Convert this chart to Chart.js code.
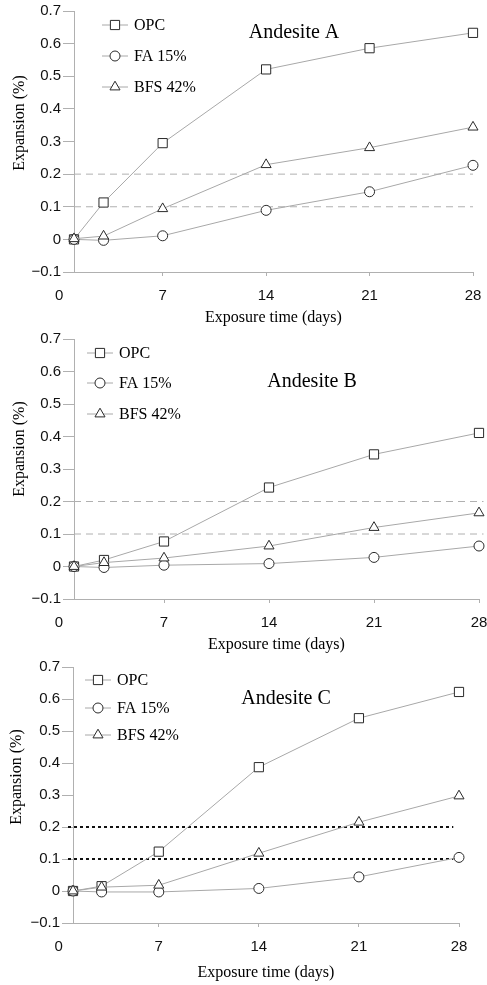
<!DOCTYPE html>
<html lang="en">
<head>
    <meta charset="UTF-8">
    <title>Expansion vs exposure time - Andesite A, B, C</title>
    <script src="https://cdn.jsdelivr.net/npm/chart.js"></script>
    <style>
        body { margin: 0; background: #fff; }
        .panel { position: absolute; left: 0; width: 487px; }
    </style>
</head>
<body>
    <div class="panel" style="top:0;height:328px"><canvas id="chartA"></canvas></div>
    <div class="panel" style="top:328px;height:328px"><canvas id="chartB"></canvas></div>
    <div class="panel" style="top:656px;height:329px"><canvas id="chartC"></canvas></div>

    <script>
        // exposure days and tick labels
        const days = [1, 3, 7, 14, 21, 28];
        const xTicks = [0, 7, 14, 21, 28];
        const limits = [0.1, 0.2];
        const seriesNames = ['OPC', 'FA 15%', 'BFS 42%'];

        // expansion (%)
        const opcA = [0, 0.113, 0.295, 0.521, 0.586, 0.633];
        const faA  = [0, -0.003, 0.011, 0.089, 0.146, 0.227];
        const bfsA = [0.002, 0.010, 0.094, 0.229, 0.281, 0.344];

        const opcB = [0, 0.020, 0.077, 0.243, 0.345, 0.411];
        const faB  = [0, -0.003, 0.004, 0.009, 0.028, 0.063];
        const bfsB = [0, 0.012, 0.026, 0.063, 0.120, 0.165];

        const opcC = [0, 0.015, 0.123, 0.387, 0.540, 0.622];
        const faC  = [0, -0.003, -0.003, 0.008, 0.044, 0.105];
        const bfsC = [0, 0.012, 0.018, 0.118, 0.215, 0.297];

        const serif = '"Liberation Serif", "Times New Roman", serif';
        const sans = '"Liberation Sans", Arial, sans-serif';
        const lineColor = '#a8a8a8';
        const markColor = '#2a2a2a';
        const styles = [
            { pointStyle: 'rect', radius: 6.5 },
            { pointStyle: 'circle', radius: 5 },
            { pointStyle: 'triangle', radius: 5.8 }
        ];

        const panels = [
            { canvas: 'chartA', title: 'Andesite A', series: [opcA, faA, bfsA],
              height: 328, top: 11, bottom: 272, right: 14, axisX: 74,
              titleX: 294, titleY: 33, legX: 115, legY: [25, 56, 87], yTitleX: 20, yTitleY: 123,
              xTitlePad: 1, ref: { color: '#b0b0b0', width: 1, dash: [7, 5], from: 1, to: 28 } },
            { canvas: 'chartB', title: 'Andesite B', series: [opcB, faB, bfsB],
              height: 328, top: 11, bottom: 271, right: 8, axisX: 74,
              titleX: 312, titleY: 54, legX: 100, legY: [25, 55, 86], yTitleX: 20, yTitleY: 121,
              xTitlePad: 2, ref: { color: '#b0b0b0', width: 1, dash: [7, 5], from: 1, to: 28.3 } },
            { canvas: 'chartC', title: 'Andesite C', series: [opcC, faC, bfsC],
              height: 329, top: 10, bottom: 267, right: 28, axisX: 73,
              titleX: 286, titleY: 43, legX: 98, legY: [24, 52, 79], yTitleX: 17, yTitleY: 121,
              xTitlePad: 3, ref: { color: '#111', width: 2, dash: [3, 3], from: 0.65, to: 27.6 } }
        ];

        const drawMarker = (ctx, style, r, x, y) => {
            ctx.beginPath();
            if (style === 'rect') {
                const s = r * Math.SQRT1_2;
                ctx.rect(x - s, y - s, 2 * s, 2 * s);
            } else if (style === 'circle') {
                ctx.arc(x, y, r, 0, Math.PI * 2);
            } else {
                const h = r * 1.5, w = r * Math.sqrt(3) / 2;
                ctx.moveTo(x, y - r);
                ctx.lineTo(x + w, y + h - r);
                ctx.lineTo(x - w, y + h - r);
                ctx.closePath();
            }
            ctx.fillStyle = '#fff';
            ctx.fill();
            ctx.stroke();
        };

        const decorations = {
            id: 'decorations',
            afterDraw(chart, args, p) {
                const ctx = chart.ctx;
                ctx.save();
                // panel label
                ctx.fillStyle = '#000';
                ctx.font = '20px ' + serif;
                ctx.textAlign = 'center';
                ctx.textBaseline = 'middle';
                ctx.fillText(p.title, p.titleX, p.titleY);
                // y title
                ctx.save();
                ctx.font = '16px ' + serif;
                ctx.translate(p.yTitleX, p.yTitleY);
                ctx.rotate(-Math.PI / 2);
                ctx.fillText('Expansion (%)', 0, 0);
                ctx.restore();
                // legend
                ctx.textAlign = 'left';
                ctx.font = '16px ' + serif;
                seriesNames.forEach((name, i) => {
                    const y = p.legY[i];
                    ctx.strokeStyle = lineColor;
                    ctx.lineWidth = 1;
                    ctx.beginPath();
                    ctx.moveTo(p.legX - 13, y);
                    ctx.lineTo(p.legX + 13, y);
                    ctx.stroke();
                    ctx.strokeStyle = markColor;
                    drawMarker(ctx, styles[i].pointStyle, styles[i].radius, p.legX, y);
                    ctx.fillStyle = '#000';
                    ctx.fillText(name, p.legX + 19, y + 1);
                });
                ctx.restore();
            }
        };

        const buildChart = (p) => {
            const datasets = limits.map(v => ({
                data: [{ x: p.ref.from, y: v }, { x: p.ref.to, y: v }],
                borderColor: p.ref.color,
                borderWidth: p.ref.width,
                borderDash: p.ref.dash,
                pointRadius: 0,
                clip: false,
                order: 5
            }));
            p.series.forEach((vals, i) => {
                datasets.push({
                    label: seriesNames[i],
                    data: days.map((d, k) => ({ x: d, y: vals[k] })),
                    borderColor: lineColor,
                    borderWidth: 1,
                    pointStyle: styles[i].pointStyle,
                    pointRadius: styles[i].radius,
                    pointBorderColor: markColor,
                    pointBackgroundColor: '#fff',
                    pointBorderWidth: 1,
                    clip: false,
                    order: 3 - i
                });
            });

            return new Chart(document.getElementById(p.canvas), {
                type: 'line',
                data: { datasets },
                plugins: [decorations],
                options: {
                    responsive: true,
                    maintainAspectRatio: false,
                    animation: false,
                    layout: { padding: { top: p.top, right: p.right, left: 0, bottom: 0 } },
                    plugins: {
                        legend: { display: false },
                        tooltip: { enabled: false },
                        decorations: p
                    },
                    scales: {
                        x: {
                            type: 'linear',
                            min: 1, max: 28,
                            afterBuildTicks: (axis) => { axis.ticks = xTicks.map(v => ({ value: v })); },
                            afterFit: (axis) => {
                                axis.height = p.height - p.bottom;
                                axis.paddingLeft = 0;
                                axis.paddingRight = 0;
                            },
                            ticks: {
                                autoSkip: false, maxRotation: 0, padding: 11,
                                color: '#111', font: { family: sans, size: 15 },
                                callback: (v) => String(v)
                            },
                            grid: {
                                drawOnChartArea: false, tickLength: 4,
                                color: (c) => c.tick && c.tick.value === 0 ? 'rgba(0,0,0,0)' : '#b0b0b0'
                            },
                            border: { color: '#b0b0b0' },
                            title: {
                                display: true, text: 'Exposure time (days)', color: '#000',
                                font: { family: serif, size: 16 },
                                padding: { top: 0, bottom: p.xTitlePad }
                            }
                        },
                        y: {
                            min: -0.1, max: 0.7,
                            afterFit: (axis) => { axis.width = p.axisX; },
                            ticks: {
                                stepSize: 0.1, padding: 2,
                                color: '#111', font: { family: sans, size: 15 },
                                callback: (v) => {
                                    const r = Math.round(v * 10) / 10;
                                    return r === 0 ? '0' : (r < 0 ? '\u2212' + Math.abs(r).toFixed(1) : r.toFixed(1));
                                }
                            },
                            grid: { drawOnChartArea: false, tickLength: 11, color: '#b0b0b0' },
                            border: { color: '#b0b0b0' }
                        }
                    }
                }
            });
        };

        panels.forEach(buildChart);
    </script>
</body>
</html>
